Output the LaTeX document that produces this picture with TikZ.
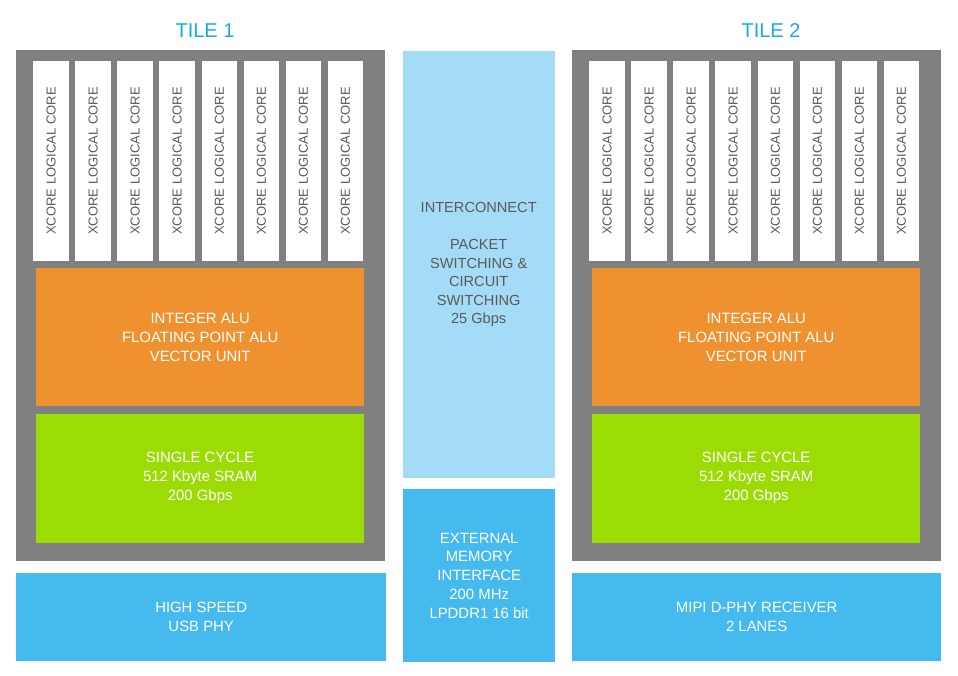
\documentclass[tikz,border=0pt]{standalone}
\usepackage{fontspec}
\setmainfont{Liberation Sans}
\usepackage{tikz}
\usetikzlibrary{positioning}
\definecolor{tilegray}{RGB}{128,128,128}
\definecolor{tileblue}{RGB}{26,170,234}
\definecolor{coretext}{RGB}{90,90,90}
\definecolor{aluorange}{RGB}{240,145,48}
\definecolor{sramgreen}{RGB}{155,220,5}
\definecolor{iolight}{RGB}{164,219,246}
\definecolor{iodark}{RGB}{68,186,239}
\tikzset{
  blk/.style={rectangle, inner sep=0pt, anchor=north west, align=center, font=\fontsize{14.9}{18.8}\selectfont},
  tile_g/.style={blk, fill=tilegray, minimum width=369pt, minimum height=511pt},
  core_w/.style={rectangle, inner sep=0pt, fill=white, text=coretext, rotate=90, minimum width=200pt, minimum height=35.5pt, font=\fontsize{13}{13}\selectfont},
  alu_o/.style={blk, fill=aluorange, text=white, minimum width=328pt, minimum height=138pt},
  sram_g/.style={blk, fill=sramgreen, text=white, minimum width=328pt, minimum height=129pt},
  io_b/.style={blk, fill=iodark, text=white},
  title_t/.style={font=\fontsize{20}{24}\selectfont, text=tileblue}
}
\begin{document}
\begin{tikzpicture}[x=1pt,y=-1pt]
	\useasboundingbox[fill=white] (0,0) rectangle (958,676);
	\foreach \t/\dx/\n/\tx in {A/0/1/205,B/556/2/771}{
		\node[tile_g] (tile\t) at ({16+\dx},50) {};
		\node[title_t] (title\t) at (\tx,31) {TILE \n};
		\foreach \i in {0,...,7}
			\node[core_w] (core\t\i) at ({51.05+\dx+42.06*\i},161) {XCORE LOGICAL CORE};
		\node[alu_o] (alu\t) at ({36+\dx},268) {INTEGER ALU\\FLOATING POINT ALU\\VECTOR UNIT};
		\node[sram_g, below=7pt of alu\t.south west, anchor=north west] (sram\t) {SINGLE CYCLE\\512 Kbyte SRAM\\200 Gbps};
	}
	\node[io_b, minimum width=370pt, minimum height=88pt] (usb) at (16,573) {HIGH SPEED\\USB PHY};
	\node[io_b, minimum width=369pt, minimum height=88pt] (mipi) at (572,573) {MIPI D-PHY RECEIVER\\2 LANES};
	\node[blk, fill=iolight, text=coretext, minimum width=152pt, minimum height=427pt, font=\fontsize{14.6}{18.5}\selectfont] (inter) at (402.5,51)
		{INTERCONNECT\\[18.5pt]PACKET\\SWITCHING \&\\CIRCUIT\\SWITCHING\\25 Gbps};
	\node[io_b, minimum width=152pt, minimum height=173pt] (extmem) at (403,489)
		{EXTERNAL\\MEMORY\\INTERFACE\\200 MHz\\LPDDR1 16 bit};
\end{tikzpicture}
\end{document}
